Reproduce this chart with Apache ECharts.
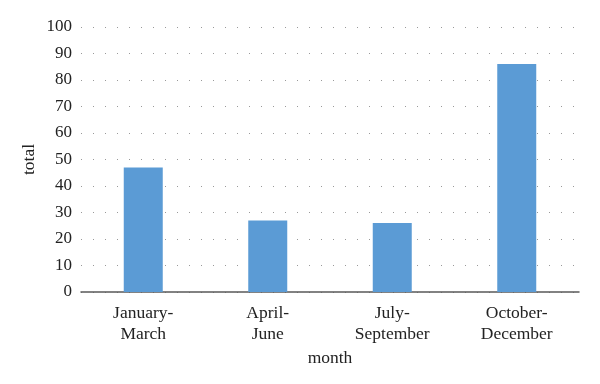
<!DOCTYPE html>
<html>
<head>
<meta charset="utf-8">
<script src="https://cdn.jsdelivr.net/npm/echarts@6/dist/echarts.min.js"></script>
<style>html,body{margin:0;padding:0;background:#fff}#c{width:600px;height:384px}</style>
</head>
<body>
<div id="c"></div>
<script>
const categories = ["January-\nMarch", "April-\nJune", "July-\nSeptember", "October-\nDecember"];
const totals = [47, 27, 26, 86];
const yMin = 0, yMax = 100, yStep = 10;
const fontFam = "'Liberation Serif', 'DejaVu Serif', serif";

const chart = echarts.init(document.getElementById('c'), null, {renderer: 'canvas'});
chart.setOption({
  animation: false,
  backgroundColor: '#ffffff',
  grid: {left: 81, right: 21, top: 27, bottom: 92, containLabel: false},
  xAxis: {
    type: 'category',
    data: categories,
    name: 'month',
    nameLocation: 'middle',
    nameGap: 57,
    nameTextStyle: {fontFamily: fontFam, fontSize: 17.5, color: '#222'},
    axisLine: {lineStyle: {color: '#595959', width: 1.5}},
    axisTick: {show: false},
    axisLabel: {fontFamily: fontFam, fontSize: 17.5, color: '#222', lineHeight: 21, margin: 11}
  },
  yAxis: {
    type: 'value',
    min: yMin, max: yMax, interval: yStep,
    name: 'total',
    nameLocation: 'middle',
    nameGap: 43,
    nameMoveOverlap: false,
    nameTextStyle: {fontFamily: fontFam, fontSize: 17.5, color: '#222'},
    axisLine: {show: false},
    axisTick: {show: false},
    axisLabel: {fontFamily: fontFam, fontSize: 17, color: '#222', margin: 9},
    splitLine: {lineStyle: {color: '#999999', width: 1, type: [1, 11]}}
  },
  series: [{
    type: 'bar',
    data: totals,
    barWidth: 39,
    itemStyle: {color: '#5b9bd5'}
  }]
});
</script>
</body>
</html>
